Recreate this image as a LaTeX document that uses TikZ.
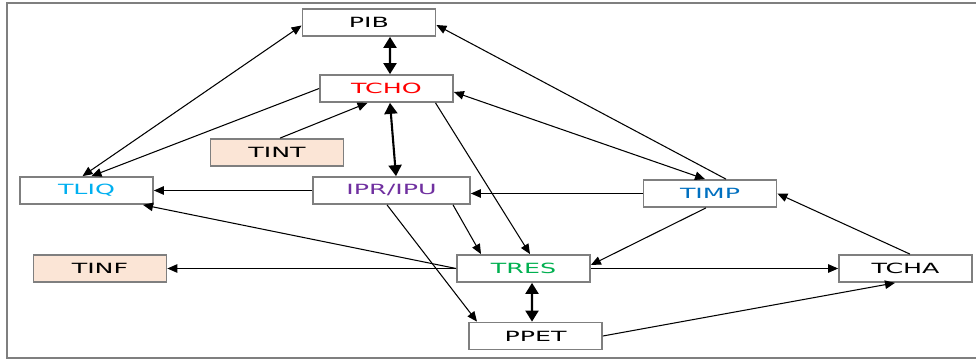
\documentclass[tikz,border=0pt]{standalone}
\usepackage{fontspec}
\usepackage{tikz}
\usetikzlibrary{arrows.meta,calc}
\newfontfamily\boxfont[FakeStretch=1.8]{DejaVu Sans}
\definecolor{framegray}{HTML}{7F7F7F}
\definecolor{peach}{HTML}{FBE5D6}
\definecolor{chored}{HTML}{FF0000}
\definecolor{liqblue}{HTML}{00B0F0}
\definecolor{iprpurple}{HTML}{7030A0}
\definecolor{impblue}{HTML}{0070C0}
\definecolor{resgreen}{HTML}{00B050}

\begin{document}
\begin{tikzpicture}[x=0.2mm, y=-0.2mm,
		box/.style={draw=framegray, line width=1pt, fill=white, minimum width=26.6mm,
			minimum height=5.4mm, inner sep=0pt, font=\boxfont\fontsize{8}{9}\selectfont},
		flow/.style={line width=0.6pt, -{Triangle[length=2mm,width=1.7mm]}},
		both/.style={line width=0.6pt, {Triangle[length=2mm,width=1.7mm]}-{Triangle[length=2mm,width=1.7mm]}},
		link/.style={line width=1.2pt, {Triangle[length=2.2mm,width=2.6mm]}-{Triangle[length=2.2mm,width=2.6mm]}}]
			\useasboundingbox (0,0) rectangle (976,363);

			% Frame
			\draw[framegray, line width=1pt] (976,3) -- (7,3) -- (7,358) -- (976,358);

			% Boxes
			\node[box] (pib) at (369,22.5) {PIB};
			\node[box, text=chored] (tcho) at (386.5,88.5) {TCHO};
			\node[box, fill=peach] (tint) at (277,152.5) {TINT};
			\node[box, text=liqblue] (tliq) at (86.5,190.5) {TLIQ};
			\node[box, text=iprpurple, minimum width=31.4mm] (ipr) at (391.5,190.5) {IPR/IPU};
			\node[box, text=impblue] (timp) at (710,193.5) {TIMP};
			\node[box, fill=peach] (tinf) at (100,268.5) {TINF};
			\node[box, text=resgreen] (tres) at (523.5,268.5) {TRES};
			\node[box] (tcha) at (905.5,268.5) {TCHA};
			\node[box] (ppet) at (535.5,336) {PPET};

			% Double links
			\draw[link] ($(pib.south)+(21,0)$) -- ($(tcho.north)+(3.5,0)$);
			\draw[link] ($(tcho.south)+(3.5,0)$) -- ($(ipr.north)+(4.5,0)$);
			\draw[link] ($(tres.south)+(8.5,0)$) -- ($(ppet.north)+(-3.5,0)$);
			\draw[both] ($(pib.west)+(0,3)$) -- ($(tliq.north)+(-4,0)$);
			\draw[both] ($(tcho.east)+(0,3.5)$) -- ($(timp.north)+(-5,0)$);

			% Flows
			\draw[flow] (tcho.west) -- ($(tliq.north)+(5,0)$);
			\draw[flow] ($(tint.north)+(3,0)$) -- ($(tcho.south)+(-19,0)$);
			\draw[flow] ($(timp.north)+(16,0)$) -- ($(pib.east)+(0,2.5)$);
			\draw[flow] ($(tcho.south)+(49,0)$) -- ($(tres.north)+(6.5,0)$);
			\draw[flow] ($(ipr.south)+(61.5,0)$) -- ($(tres.north)+(-42.5,0)$);
			\draw[flow] ($(ipr.south)+(-4.5,0)$) -- ($(ppet.north)+(-58.5,0)$);
			\draw[flow] (ipr.west) -- (tliq.east);
			\draw[flow] (timp.west) -- (timp.west -| ipr.east);
			\draw[flow] ($(timp.south)+(-4,0)$) -- ($(tres.east)+(0,-3.5)$);
			\draw[flow] (tres.west) -- ($(tliq.south)+(56.5,0)$);
			\draw[flow] (tres.west) -- (tinf.east);
			\draw[flow] (tres.east) -- (tcha.west);
			\draw[flow] (ppet.east) -- ($(tcha.south)+(-10.5,0)$);
			\draw[flow] ($(tcha.north)+(4.5,0)$) -- (timp.east);
		\end{tikzpicture}
\end{document}
